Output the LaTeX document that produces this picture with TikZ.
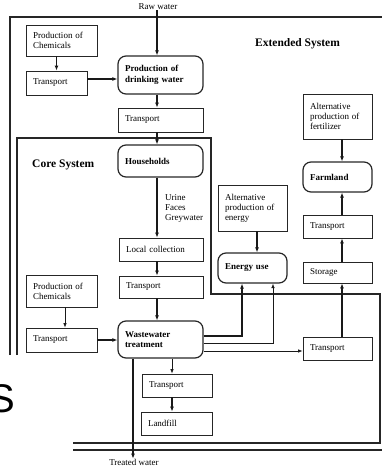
\documentclass[tikz,border=0pt]{standalone}
\usepackage{fontspec}
\setmainfont{Liberation Serif}
\newfontfamily\sansS{Liberation Sans}
\usetikzlibrary{arrows.meta}
\newcommand\mkbox[7]{%
  \pgfmathsetmacro\mybw{#5-#3}\pgfmathsetmacro\mybh{#6-#4}\pgfmathsetmacro\mytw{#5-#3-14}%
  \node[#1, minimum width=\mybw pt, minimum height=\mybh pt, text width=\mytw pt] (#2) at ({(#3+#5)/2},{(#4+#6)/2}) {#7};}
\begin{document}
\begin{tikzpicture}[x=1pt,y=-1pt,
  box/.style={draw=black!85, line width=0.8pt, inner sep=0pt, align=left, font=\fontsize{9}{10}\selectfont},
  rbox/.style={box, rounded corners=8pt, line width=1.2pt, font=\fontsize{9}{10.5}\selectfont\bfseries},
  frame/.style={line width=1.4pt, draw=black!85},
  lbl/.style={inner sep=0pt, font=\fontsize{9}{10}\selectfont, align=left},
  title/.style={inner sep=0pt, font=\fontsize{11.5}{12}\selectfont\bfseries},
  arr/.style={-{Latex[length=5pt,width=4pt]}, line width=1.2pt, draw=black!90},
  tarr/.style={-{Latex[length=4.5pt,width=3.5pt]}, line width=0.7pt, draw=black!90},
]
\useasboundingbox (0,0) rectangle (382,468);
% frames
\draw[frame] (10,355) -- (10,17) -- (390,17);
\draw[frame] (73,450) -- (390,450);
\draw[frame] (17,355) -- (17,138) -- (211,138) -- (211,294) -- (380,294) -- (380,443) -- (73,443);
% labels
\node[title, anchor=west] (ext) at (255,44) {Extended System};
\node[title, anchor=west] (core) at (32,165) {Core System};
% boxes
\mkbox{box}{pc1}{26}{25}{97}{56}{Production of\\Chemicals}
\mkbox{box}{tr1}{26}{71}{87}{95}{Transport}
\mkbox{rbox}{pdw}{118}{56}{203}{94}{Production of\\drinking water}
\mkbox{box}{tr2}{118}{108}{203}{132}{Transport}
\mkbox{rbox}{hh}{118}{145}{203}{177}{Households}
\mkbox{box}{lc}{119}{238}{203}{261}{Local collection}
\mkbox{box}{tr3}{119}{276}{203}{298}{Transport}
\mkbox{box}{pc2}{26}{275}{97}{307}{Production of\\Chemicals}
\mkbox{box}{tr4}{26}{328}{97}{352}{Transport}
\mkbox{rbox}{wwt}{118}{321}{203}{358}{Wastewater\\treatment}
\mkbox{box}{tr5}{142}{374}{212}{397}{Transport}
\mkbox{box}{lf}{141}{412}{212}{435}{Landfill}
\mkbox{box}{ape}{218}{185}{287}{231}{Alternative\\production of\\energy}
\mkbox{rbox}{eu}{218}{253}{287}{283}{Energy use}
\mkbox{box}{apf}{303}{94}{372}{139}{Alternative\\production of\\fertilizer}
\mkbox{rbox}{fl}{303}{162}{372}{192}{Farmland}
\mkbox{box}{tr6}{303}{215}{372}{238}{Transport}
\mkbox{box}{st}{303}{262}{372}{283}{Storage}
\mkbox{box}{tr7}{303}{337}{372}{360}{Transport}
% free labels
\node[lbl] (raw) at (158,7) {Raw water};
\node[lbl] (tw) at (134,462) {Treated water};
\node[lbl, anchor=west] (ufg) at (165,208) {Urine\\Faces\\Greywater};
\node[anchor=base east, inner sep=0pt, font=\fontsize{40}{40}\sansS] (bigS) at (15,412) {S};
% helper coordinates
\coordinate (x157) at (157,0);
% connectors
\draw[arr] (raw.south -| x157) -- (pdw.north -| x157);
\draw[arr] (tr1.north |- pc1.south) -- (tr1.north);
\draw[arr] (tr1.east |- 0,79) -- (pdw.west |- 0,79);
\draw[arr] (pdw.south -| x157) -- (tr2.north -| x157);
\draw[arr] (tr2.south -| x157) -- (hh.north -| x157);
\draw[arr] (hh.south -| x157) -- (lc.north -| x157);
\draw[arr] (lc.south -| x157) -- (tr3.north -| x157);
\draw[arr] (tr3.south -| x157) -- (wwt.north -| x157);
\draw[tarr] (pc2.south -| 65,0) -- (tr4.north -| 65,0);
\draw[arr] (tr4.east) -- (wwt.west |- tr4.east);
\draw[arr] (wwt.east |- 0,336) -| (eu.south -| 242,0);
\draw[tarr] (wwt.east |- 0,343) -| (eu.south -| 273,0);
\draw[tarr] (wwt.east |- 0,351) -- (tr7.west |- 0,351);
\draw[arr] (ape.south -| 257,0) -- (eu.north -| 257,0);
\draw[arr] (tr7.north -| 342,0) -- (st.south -| 342,0);
\draw[arr] (st.north -| 342,0) -- (tr6.south -| 342,0);
\draw[arr] (tr6.north -| 342,0) -- (fl.south -| 342,0);
\draw[arr] (apf.south -| 342,0) -- (fl.north -| 342,0);
\draw[tarr] (wwt.south -| 172,0) -- (tr5.north -| 172,0);
\draw[arr] (tr5.south -| 172,0) -- (lf.north -| 172,0);
\draw[arr] (wwt.south -| 133,0) -- (tw.north -| 133,0);
\end{tikzpicture}
\end{document}
